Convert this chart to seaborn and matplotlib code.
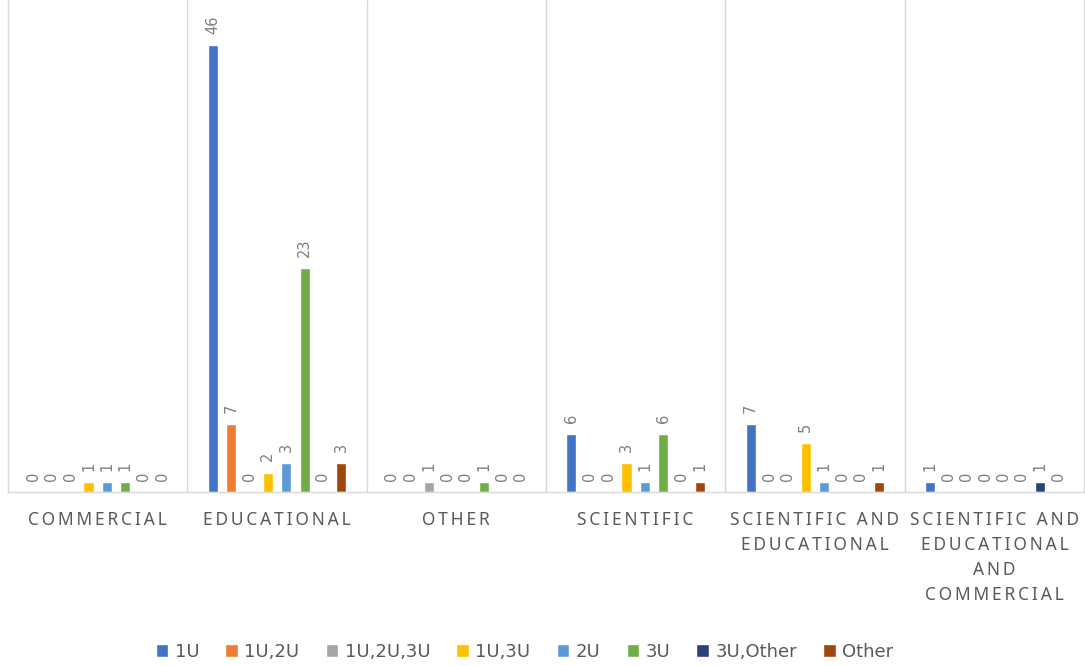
import matplotlib
matplotlib.use("Agg")
import matplotlib.pyplot as plt
from matplotlib import font_manager
import seaborn as sns
import pandas as pd

categories = ["Commercial", "Educational", "Other", "Scientific",
              "Scientific and Educational",
              "Scientific and Educational and Commercial"]
tick_labels = ["COMMERCIAL", "EDUCATIONAL", "OTHER", "SCIENTIFIC",
               "SCIENTIFIC AND\nEDUCATIONAL",
               "SCIENTIFIC AND\nEDUCATIONAL\nAND\nCOMMERCIAL"]
series = ["1U", "1U,2U", "1U,2U,3U", "1U,3U", "2U", "3U", "3U,Other", "Other"]

v_1u = [0, 46, 0, 6, 7, 1]
v_1u2u = [0, 7, 0, 0, 0, 0]
v_1u2u3u = [0, 0, 1, 0, 0, 0]
v_1u3u = [1, 2, 0, 3, 5, 0]
v_2u = [1, 3, 0, 1, 1, 0]
v_3u = [1, 23, 1, 6, 0, 0]
v_3uother = [0, 0, 0, 0, 0, 1]
v_other = [0, 3, 0, 1, 1, 0]

colors = ["#4472C4", "#ED7D31", "#A5A5A5", "#FFC000",
          "#5B9BD5", "#70AD47", "#264478", "#9E480E"]

values = [v_1u, v_1u2u, v_1u2u3u, v_1u3u, v_2u, v_3u, v_3uother, v_other]
rows = []
for s, vals in zip(series, values):
    for c, v in zip(categories, vals):
        rows.append({"category": c, "series": s, "count": v})
df = pd.DataFrame(rows)

sns.set_theme(style="white")
plt.rcParams["font.family"] = ["DejaVu Sans"]
text_gray = "#595959"
label_gray = "#7F7F7F"
line_gray = "#D9D9D9"

# prefer a narrow face for the category labels when one is installed
available = {f.name for f in font_manager.fontManager.ttflist}
tick_family = "Liberation Sans Narrow" if "Liberation Sans Narrow" in available else "Noto Sans"

fig = plt.figure(figsize=(10.85, 6.66), dpi=100)
ax = fig.add_axes([8 / 1085, 174 / 666, 1076 / 1085, 492 / 666])

sns.barplot(data=df, x="category", y="count", hue="series",
            order=categories, hue_order=series, palette=colors,
            saturation=1, width=0.82, gap=0.45, ax=ax, legend=True)

for cont in ax.containers:
    ax.bar_label(cont, rotation=90, padding=8, fontsize=10.5, color=label_gray)

ax.set_xlim(-0.5, len(categories) - 0.5)
ax.set_ylim(0, 50.6)
ax.set_yticks([])
ax.set_xlabel("")
ax.set_ylabel("")


def spaced(label):
    lines = []
    for line in label.split("\n"):
        words = ["\u2009".join(w) for w in line.split(" ")]
        lines.append("\u2009 \u2009".join(words))
    return "\n".join(lines)


ax.set_xticks(range(len(categories)))
ax.set_xticklabels([spaced(t) for t in tick_labels], fontsize=12.5,
                   color=text_gray, linespacing=1.5)
ax.tick_params(axis="x", length=0, pad=14)
for lbl in ax.get_xticklabels():
    lbl.set_fontfamily([tick_family, "DejaVu Sans"])

ax.set_xticks([i + 0.5 for i in range(len(categories) - 1)], minor=True)
ax.grid(which="minor", axis="x", color=line_gray, linewidth=1)
ax.tick_params(which="minor", length=0)

for side in ["left", "right", "bottom"]:
    ax.spines[side].set_color(line_gray)
    ax.spines[side].set_linewidth(1)
ax.spines["top"].set_visible(False)

handles, labels = ax.get_legend_handles_labels()
ax.legend(handles, labels, loc="center", bbox_to_anchor=(0.48, -0.325),
          ncol=8, frameon=False, fontsize=13, labelcolor=text_gray,
          handlelength=0.7, handleheight=0.7, handletextpad=0.35,
          columnspacing=1.45)

fig.savefig("out.png", dpi=100)
